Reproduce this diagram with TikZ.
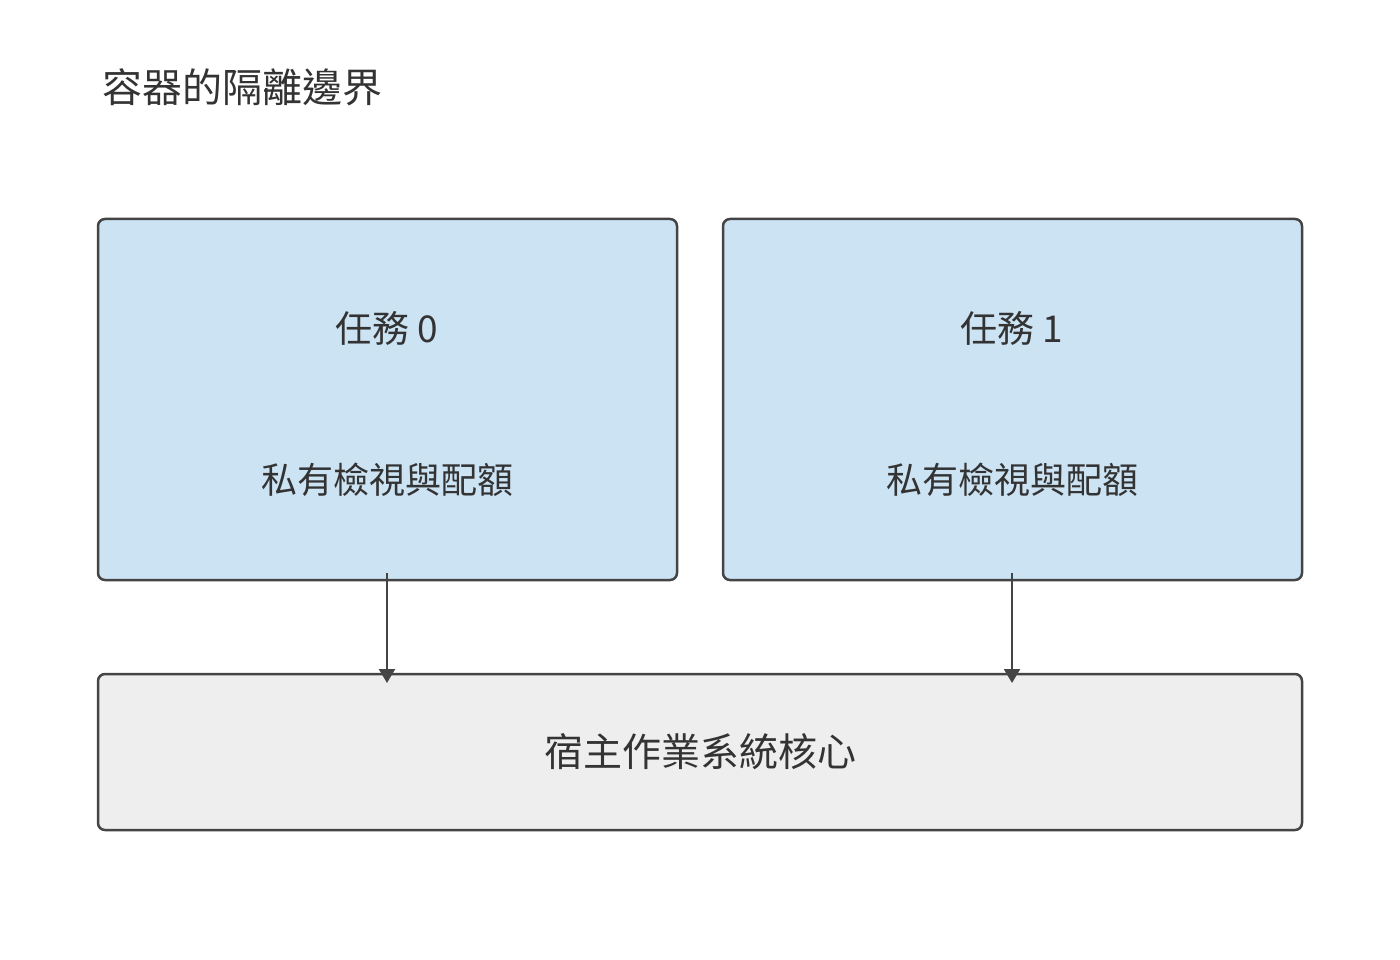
\documentclass[tikz,border=0pt]{standalone}
\usepackage{fontspec}
\setmainfont{Noto Sans CJK TC}
\usetikzlibrary{arrows.meta}
\definecolor{line}{HTML}{444444}
\definecolor{bluef}{HTML}{CCE3F3}
\definecolor{greyf}{HTML}{EEEEEE}
\definecolor{txt}{HTML}{333333}
\begin{document}
\begin{tikzpicture}[x=1pt,y=-1pt,
  box/.style={draw=line,line width=2.5pt,rounded corners=7pt},
  lbl/.style={text=txt,inner sep=0pt},
  arr/.style={draw=line,line width=2.2pt,-{Triangle[length=14pt,width=16pt]}}]
\useasboundingbox (0,0) rectangle (1400,960);
\node[lbl,anchor=west,font=\fontsize{40}{48}\selectfont] (title) at (102,87) {容器的隔離邊界};
\draw[box,fill=bluef] (98,219) rectangle (677,580);
\draw[box,fill=bluef] (723,219) rectangle (1302,580);
\draw[box,fill=greyf] (98,674) rectangle (1302,830);
\coordinate (b0) at (387,580); \coordinate (b1) at (1012,580);
\coordinate (k0) at (387,674); \coordinate (k1) at (1012,674);
\node[lbl,font=\fontsize{37}{44}\selectfont] (t0) at (387,328) {任務 0};
\node[lbl,font=\fontsize{36}{44}\selectfont] (s0) at (387,480) {私有檢視與配額};
\node[lbl,font=\fontsize{37}{44}\selectfont] (t1) at (1012,328) {任務 1};
\node[lbl,font=\fontsize{36}{44}\selectfont] (s1) at (1012,480) {私有檢視與配額};
\node[lbl,font=\fontsize{39}{46}\selectfont] (k) at (700,752) {宿主作業系統核心};
\draw[arr] ([yshift=7pt]b0) -- ([yshift=-9pt]k0);
\draw[arr] ([yshift=7pt]b1) -- ([yshift=-9pt]k1);
\end{tikzpicture}
\end{document}
